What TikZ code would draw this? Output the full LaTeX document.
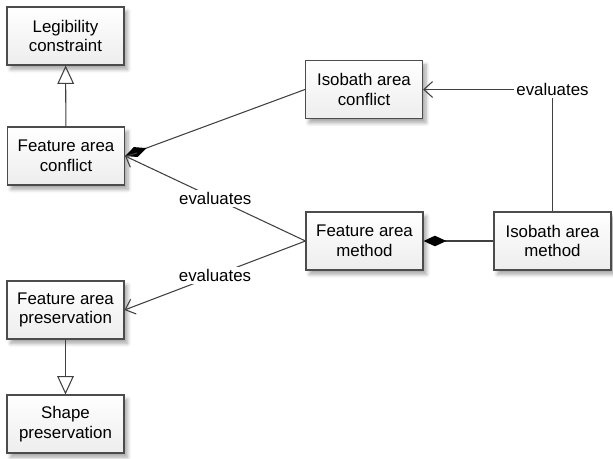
\documentclass[tikz,border=0pt]{standalone}
\usepackage{fontspec}
\setmainfont{Liberation Sans}
\usetikzlibrary{arrows.meta,shadows.blur}

\begin{document}
\begin{tikzpicture}[x=0.02cm,y=-0.02cm,
                    box/.style={draw=black!70,line width=0.6pt,top color=white,bottom color=black!7,
                      minimum width=2.34cm,minimum height=1.16cm,align=center,
                      font=\fontsize{9.6}{11.3}\selectfont,
                      blur shadow={shadow xshift=2pt,shadow yshift=-2.5pt,shadow blur steps=6,shadow opacity=35}},
                    link/.style={draw=black!75,line width=0.6pt},
                    gen/.style={link,-{Triangle[open,length=10.5pt,width=9.5pt]}},
                    comp/.style={link,{Diamond[length=13pt,width=6pt,color=black]}-},
                    eval/.style={link,-{Straight Barb[length=5pt,width=9pt]}},
                    lbl/.style={fill=white,inner sep=1.5pt,font=\fontsize{9.6}{11.3}\selectfont}]
                    \useasboundingbox (0,0) rectangle (613,459);
                    \node[box] (legib) at (65.5,36) {Legibility\\constraint};
                    \node[box] (fconf) at (66,156) {Feature area\\conflict};
                    \node[box] (iconf) at (364,89.5) {Isobath area\\conflict};
                    \node[box] (fmeth) at (364.5,241) {Feature area\\method};
                    \node[box] (imeth) at (552.5,241) {Isobath area\\method};
                    \node[box] (fpres) at (65.5,310) {Feature area\\preservation};
                    \node[box] (shape) at (65.5,424) {Shape\\preservation};

                    \draw[gen] (fconf) -- (legib);
                    \draw[gen] (fpres) -- (shape);
                    \draw[comp] (fconf.east) -- (iconf.west);
                    \draw[comp] (fmeth.east) -- (imeth.west);
                    \draw[eval] (fmeth.west) -- node[lbl] {evaluates} (fconf.east);
                    \draw[eval] (fmeth.west) -- node[lbl] {evaluates} (fpres.east);
                    \draw[eval] (imeth.north) |- node[lbl] {evaluates} (iconf.east);
                \end{tikzpicture}
\end{document}
